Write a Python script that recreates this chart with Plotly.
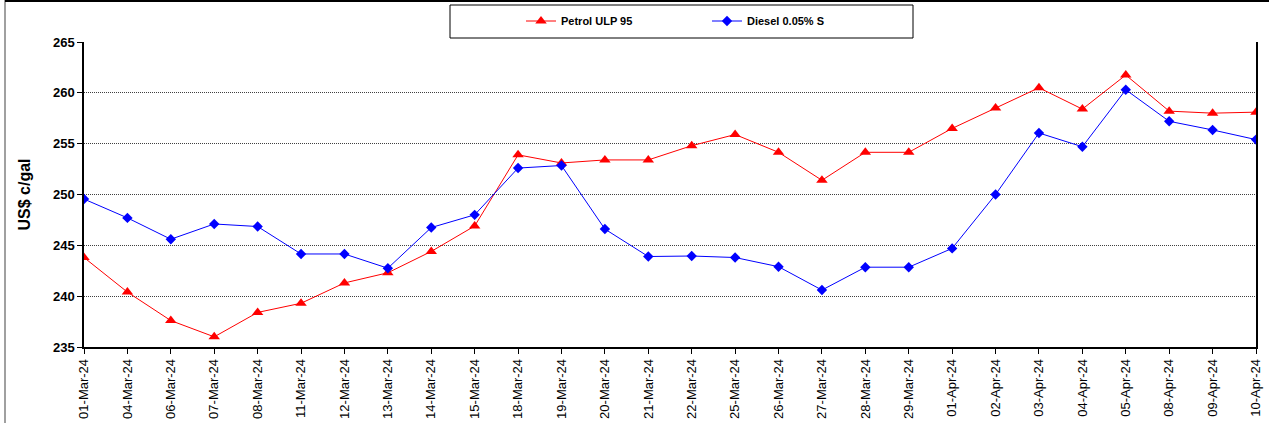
import plotly.graph_objects as go

dates = ["01-Mar-24", "04-Mar-24", "06-Mar-24", "07-Mar-24", "08-Mar-24", "11-Mar-24",
         "12-Mar-24", "13-Mar-24", "14-Mar-24", "15-Mar-24", "18-Mar-24", "19-Mar-24",
         "20-Mar-24", "21-Mar-24", "22-Mar-24", "25-Mar-24", "26-Mar-24", "27-Mar-24",
         "28-Mar-24", "29-Mar-24", "01-Apr-24", "02-Apr-24", "03-Apr-24", "04-Apr-24",
         "05-Apr-24", "08-Apr-24", "09-Apr-24", "10-Apr-24"]

petrol = [243.8, 240.4, 237.6, 236.0, 238.4, 239.3, 241.3, 242.3, 244.4, 246.9,
          253.9, 253.1, 253.4, 253.4, 254.8, 255.9, 254.15, 251.4, 254.15, 254.15,
          256.5, 258.5, 260.5, 258.4, 261.75, 258.2, 258.0, 258.1]

diesel = [249.55, 247.7, 245.6, 247.1, 246.85, 244.15, 244.15, 242.75, 246.75, 248.0,
          252.6, 252.85, 246.6, 243.9, 243.95, 243.8, 242.9, 240.6, 242.85, 242.85,
          244.7, 250.0, 256.05, 254.7, 260.3, 257.2, 256.35, 255.4]

y_ticks = [235, 240, 245, 250, 255, 260, 265]

W, H = 1269, 423
ML, MR, MT, MB = 84, 13, 42, 76
PW = W - ML - MR
PH = H - MT - MB
FONT = "Liberation Sans, Arial, sans-serif"

def px_x(p):
    return (p - ML) / PW

def px_y(p):
    return (H - MB - p) / PH

idx = list(range(len(dates)))

fig = go.Figure()
fig.add_trace(go.Scatter(
    x=idx, y=petrol, mode="lines+markers", name="Petrol ULP 95",
    line=dict(color="#FF0000", width=1),
    marker=dict(symbol="triangle-up", size=10, color="#FF0000"),
))
fig.add_trace(go.Scatter(
    x=idx, y=diesel, mode="lines+markers", name="Diesel 0.05% S",
    line=dict(color="#0000FF", width=1),
    marker=dict(symbol="diamond", size=8, color="#0000FF"),
))

shapes = [
    dict(type="line", xref="paper", yref="paper", x0=px_x(5), x1=px_x(5),
         y0=px_y(0), y1=px_y(423), line=dict(color="#808080", width=1.5)),
    dict(type="line", xref="paper", yref="paper", x0=px_x(5), x1=px_x(1269),
         y0=px_y(1), y1=px_y(1), line=dict(color="#000000", width=2)),
    dict(type="rect", xref="paper", yref="paper", x0=px_x(450), x1=px_x(913),
         y0=px_y(38), y1=px_y(5), line=dict(color="#000000", width=1),
         fillcolor="rgba(0,0,0,0)"),
]

fig.update_layout(
    width=W, height=H,
    margin=dict(l=ML, r=MR, t=MT, b=MB, pad=0, autoexpand=False),
    paper_bgcolor="white", plot_bgcolor="white",
    font=dict(family=FONT, color="black", size=11),
    showlegend=True,
    legend=dict(
        orientation="h", xref="container", yref="container",
        x=521 / W, y=1 - 21 / H, xanchor="left", yanchor="middle",
        font=dict(size=11, family=FONT, weight="bold"),
        bgcolor="rgba(0,0,0,0)", borderwidth=0, entrywidth=141, entrywidthmode="pixels",
        itemwidth=30,
    ),
    shapes=shapes,
    xaxis=dict(
        type="linear", range=[0, len(dates) - 1], automargin=False,
        tickmode="array", tickvals=idx, ticktext=dates, tickangle=-90,
        ticks="outside", ticklen=5, tickcolor="black", tickwidth=1,
        showline=True, linecolor="black", linewidth=1.5, mirror=False,
        showgrid=False, zeroline=False,
        tickfont=dict(size=13, family=FONT),
    ),
    yaxis=dict(
        range=[235, 265], tickmode="array", tickvals=y_ticks, automargin=False,
        ticks="outside", ticklen=5, tickcolor="black", tickwidth=1,
        showline=True, linecolor="black", linewidth=1.5, mirror=True,
        showgrid=True, gridcolor="#404040", griddash="1px,1px", gridwidth=1,
        zeroline=False,
        tickfont=dict(size=13, family=FONT, weight="bold"),
        title=dict(text="US$ c/gal", standoff=18,
                   font=dict(size=16, family=FONT, weight="bold")),
    ),
)

fig.write_html(
    "out.html",
    config={"displayModeBar": False},
    post_script="document.body.style.margin='0';document.body.style.overflow='hidden';",
)
